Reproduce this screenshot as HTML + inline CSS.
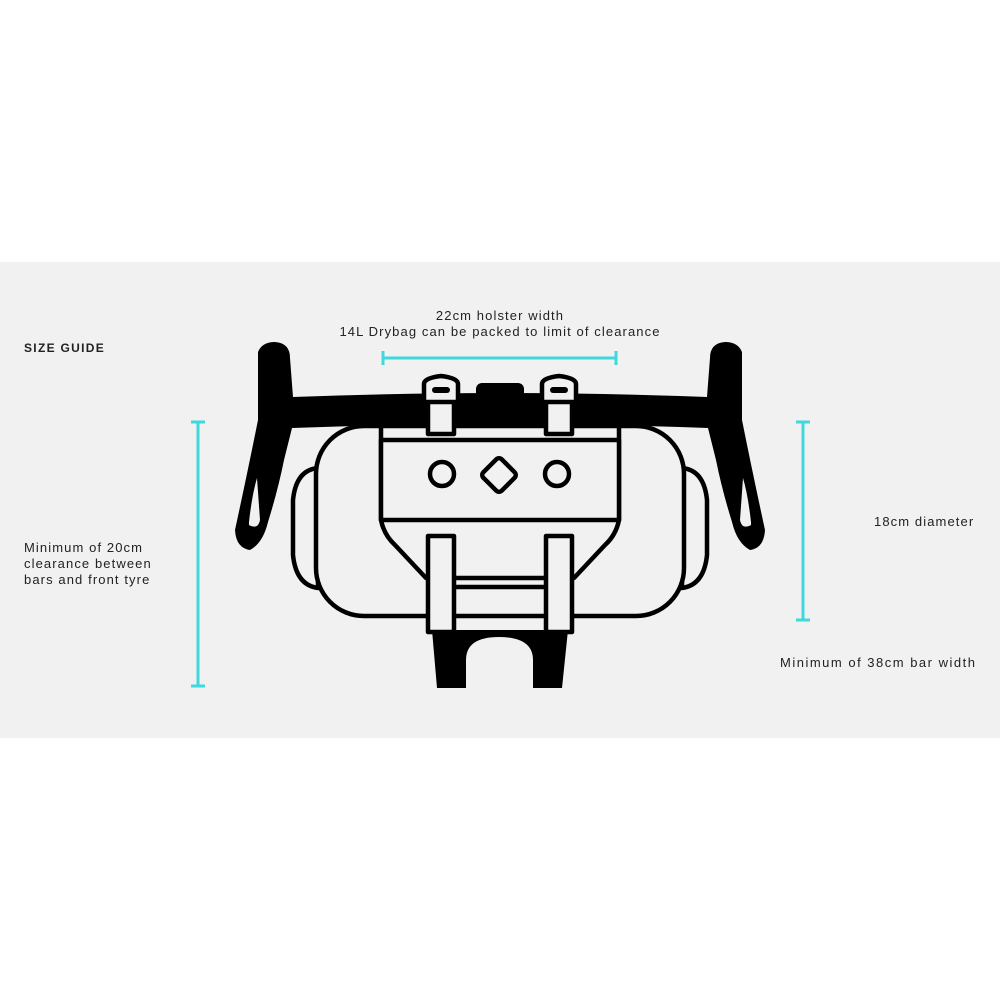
<!DOCTYPE html>
<html><head><style>
body{margin:0;width:1000px;height:1000px;background:#fff;position:relative;overflow:hidden;font-family:"Liberation Sans",sans-serif;}
.band{position:absolute;left:0;top:262px;width:1000px;height:476px;background:#f1f1f1;}
.t{position:absolute;font-size:13px;color:#222;letter-spacing:1.1px;line-height:16px;white-space:nowrap;}
</style></head><body>
<div class="band"></div>
<svg width="1000" height="1000" style="position:absolute;left:0;top:0">
<g stroke="#3fd8dc" stroke-width="3" fill="none">
<line x1="383" y1="358" x2="616" y2="358"/><line x1="383" y1="351" x2="383" y2="365"/><line x1="616" y1="351" x2="616" y2="365"/>
<line x1="198" y1="422" x2="198" y2="686"/><line x1="191" y1="422" x2="205" y2="422"/><line x1="191" y1="686" x2="205" y2="686"/>
<line x1="803" y1="422" x2="803" y2="620"/><line x1="796" y1="422" x2="810" y2="422"/><line x1="796" y1="620" x2="810" y2="620"/>
</g>
<g fill="#000">
<path d="M258,352 Q262,342 275,342 Q290,343 290,358 L293,397 Q400,393 500,393 Q600,393 707,397 L710,358 Q710,343 725,342 Q738,342 742,352 L742,420 Q752,470 765,530 Q764,548 750,550 Q737,543 732,522 Q722,490 716,460 L708,428 Q600,424 500,424 Q400,424 292,428 L284,460 Q278,490 268,522 Q263,543 250,550 Q236,548 235,530 Q248,470 258,420 Z"/>
<rect x="476" y="383" width="48" height="20" rx="6"/>
<path d="M432,630 L568,630 L562,688 L533,688 L533,660 Q533,637 499,637 Q466,637 466,660 L466,688 L437,688 Z"/>
</g>
<path d="M249,522 Q252,495 257,478 L260,520 Q258,530 249,525Z M751,522 Q748,495 743,478 L740,520 Q742,530 751,525Z" fill="#f1f1f1"/>
<g stroke="#000" stroke-width="4.5" fill="#f1f1f1" stroke-linejoin="round">
<path d="M318,468 Q296,470 293,500 L293,555 Q296,585 318,588Z"/>
<path d="M682,468 Q704,470 707,500 L707,555 Q704,585 682,588Z"/>
<rect x="316" y="426" width="368" height="190" rx="48"/>
<path d="M381,426 L619,426 L619,520 Q616,535 605,545 L574,578 L426,578 L395,545 Q384,535 381,520 Z"/>
<rect x="381" y="440" width="238" height="80"/>
<rect x="428" y="536" width="26" height="96"/>
<rect x="546" y="536" width="26" height="96"/>
<line x1="454" y1="587" x2="546" y2="587"/>
<rect x="428" y="392" width="26" height="42"/>
<rect x="546" y="392" width="26" height="42"/>
<path d="M424,384 Q424,378 441,376 Q458,378 458,384 L458,402 L424,402Z"/>
<path d="M542,384 Q542,378 559,376 Q576,378 576,384 L576,402 L542,402Z"/>
<circle cx="442" cy="474" r="12"/><circle cx="557" cy="474" r="12"/>
<rect x="486" y="462" width="26" height="26" rx="4" transform="rotate(45 499 475)"/>
</g>
<g fill="#000"><rect x="432" y="387" width="18" height="6" rx="3"/><rect x="550" y="387" width="18" height="6" rx="3"/></g>
</svg>
<div class="t" style="left:24px;top:340px;font-weight:bold;letter-spacing:1.3px;font-size:12px">SIZE GUIDE</div>
<div class="t" style="left:300px;width:400px;top:308px;text-align:center">22cm holster width<br>14L Drybag can be packed to limit of clearance</div>
<div class="t" style="left:24px;top:540px">Minimum of 20cm<br>clearance between<br>bars and front tyre</div>
<div class="t" style="left:874px;top:514px">18cm diameter</div>
<div class="t" style="left:780px;top:655px;letter-spacing:1.5px">Minimum of 38cm bar width</div>
</body></html>
